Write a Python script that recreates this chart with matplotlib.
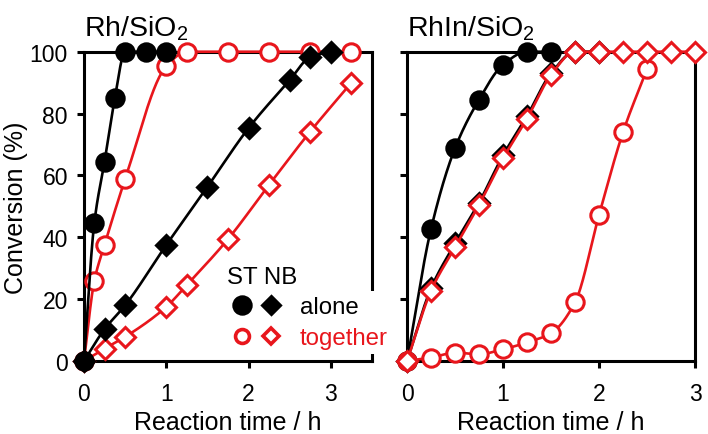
import numpy as np
import matplotlib
matplotlib.use('Agg')
import matplotlib.pyplot as plt
from matplotlib.lines import Line2D
from matplotlib.legend_handler import HandlerTuple

plt.rcParams['font.family'] = ['Liberation Sans', 'DejaVu Sans']
plt.rcParams['font.size'] = 16
plt.rcParams['mathtext.fontset'] = 'custom'
plt.rcParams['mathtext.rm'] = 'Liberation Sans'
plt.rcParams['mathtext.it'] = 'Liberation Sans:italic'

RED = '#e8161c'

# Rh/SiO2
rh_st_alone_t = [0, 0.125, 0.25, 0.375, 0.5, 0.75, 1.0]
rh_st_alone = [0, 44.5, 64.5, 85, 100, 100, 100]
rh_st_tog_t = [0, 0.125, 0.25, 0.5, 1.0, 1.25, 1.75, 2.25, 2.75, 3.25]
rh_st_tog = [0, 25.8, 37.5, 58.8, 95.3, 100, 100, 100, 100, 100]
rh_nb_alone_t = [0, 0.25, 0.5, 1.0, 1.5, 2.0, 2.5, 2.75, 3.0]
rh_nb_alone = [0, 10.3, 18.0, 37.5, 56.3, 75.3, 90.8, 98.3, 100]
rh_nb_tog_t = [0, 0.25, 0.5, 1.0, 1.25, 1.75, 2.25, 2.75, 3.25]
rh_nb_tog = [0, 4.0, 7.8, 17.5, 24.6, 39.4, 57.0, 74.2, 90.0]

# RhIn/SiO2
rhin_st_alone_t = [0, 0.25, 0.5, 0.75, 1.0, 1.25, 1.5]
rhin_st_alone = [0, 42.7, 68.8, 84.5, 95.8, 100, 100]
rhin_st_tog_t = [0, 0.25, 0.5, 0.75, 1.0, 1.25, 1.5, 1.75, 2.0, 2.25, 2.5]
rhin_st_tog = [0, 1.1, 2.7, 2.2, 3.8, 6.0, 9.0, 19.0, 47.2, 74.0, 94.4]
rhin_nb_alone_t = [0, 0.25, 0.5, 0.75, 1.0, 1.25, 1.5, 1.75, 2.0]
rhin_nb_alone = [0, 23.5, 38.0, 51.2, 66.5, 79.2, 93.0, 100, 100]
rhin_nb_tog_t = [0, 0.25, 0.5, 0.75, 1.0, 1.25, 1.5, 1.75, 2.0, 2.25, 2.5, 2.75, 3.0]
rhin_nb_tog = [0, 22.7, 36.8, 50.5, 65.5, 78.4, 92.5, 100, 100, 100, 100, 100, 100]


def pchip(x, y, n=300):
    # monotone cubic curve through the points, for the smooth guide lines
    x = np.asarray(x, float)
    y = np.asarray(y, float)
    h = np.diff(x)
    d = np.diff(y) / h
    m = np.zeros_like(y)
    for k in range(1, len(x) - 1):
        if d[k - 1] * d[k] > 0:
            w1 = 2 * h[k] + h[k - 1]
            w2 = h[k] + 2 * h[k - 1]
            m[k] = (w1 + w2) / (w1 / d[k - 1] + w2 / d[k])
    m[0] = d[0]
    m[-1] = d[-1]
    xs = np.linspace(x[0], x[-1], n)
    idx = np.clip(np.searchsorted(x, xs) - 1, 0, len(h) - 1)
    s = (xs - x[idx]) / h[idx]
    h00 = 2 * s**3 - 3 * s**2 + 1
    h10 = s**3 - 2 * s**2 + s
    h01 = -2 * s**3 + 3 * s**2
    h11 = s**3 - s**2
    ys = h00 * y[idx] + h10 * h[idx] * m[idx] + h01 * y[idx + 1] + h11 * h[idx] * m[idx + 1]
    return xs, ys


MS = {'o': 12.5, 'D': 10.3}


def series(ax, t, y, color, marker, filled, z):
    xs, ys = pchip(t, y)
    ax.plot(xs, ys, color=color, lw=1.9, zorder=z, clip_on=False)
    ax.plot(t, y, ls='none', marker=marker, ms=MS[marker],
            mfc=color if filled else 'white', mec=color, mew=2.2,
            zorder=z + 0.5, clip_on=False)


fig = plt.figure(figsize=(7.08, 4.35), dpi=100)
ax1 = fig.add_axes([0.1186, 0.1678, 0.4068, 0.711])
ax2 = fig.add_axes([0.5749, 0.1678, 0.4068, 0.711])

series(ax1, rh_st_tog_t, rh_st_tog, RED, 'o', False, 3)
series(ax1, rh_nb_tog_t, rh_nb_tog, RED, 'D', False, 3)
series(ax1, rh_st_alone_t, rh_st_alone, 'black', 'o', True, 4)
series(ax1, rh_nb_alone_t, rh_nb_alone, 'black', 'D', True, 4)

series(ax2, rhin_st_alone_t, rhin_st_alone, 'black', 'o', True, 3)
series(ax2, rhin_nb_alone_t, rhin_nb_alone, 'black', 'D', True, 3)
series(ax2, rhin_st_tog_t, rhin_st_tog, RED, 'o', False, 4)
series(ax2, rhin_nb_tog_t, rhin_nb_tog, RED, 'D', False, 5)

for ax, xmax in [(ax1, 3.5), (ax2, 3.0)]:
    ax.set_xlim(0, xmax)
    ax.set_ylim(0, 100)
    ax.set_xticks([0, 1, 2, 3])
    ax.set_yticks([0, 20, 40, 60, 80, 100])
    for sp in ax.spines.values():
        sp.set_linewidth(2.2)
    ax.tick_params(direction='out', length=5, width=2.2, pad=6.5, labelsize=16.5)
    ax.tick_params(axis='x', pad=10)
    ax.set_xlabel('Reaction time / h', fontsize=18, labelpad=4)
ax2.set_yticklabels([])
ax1.set_ylabel('Conversion (%)', fontsize=18, labelpad=1)

ax1.set_title('Rh/SiO$_2$', loc='left', fontsize=20.5, pad=12)
ax2.set_title('RhIn/SiO$_2$', loc='left', fontsize=20.5, pad=12)

h_alone = (Line2D([], [], ls='none', marker='o', ms=12.5, mfc='black', mec='black', mew=2.2),
           Line2D([], [], ls='none', marker='D', ms=9.5, mfc='black', mec='black', mew=2.2))
h_tog = (Line2D([], [], ls='none', marker='o', ms=10, mfc='white', mec=RED, mew=2.6),
         Line2D([], [], ls='none', marker='D', ms=8, mfc='white', mec=RED, mew=2.6))
leg = ax1.legend([h_alone, h_tog], ['alone', 'together'],
                 handler_map={tuple: HandlerTuple(ndivide=None, pad=0)},
                 loc='lower left', bbox_to_anchor=(0.481, 0.023), borderaxespad=0,
                 borderpad=0.2, handlelength=2.42, handletextpad=0.6,
                 labelspacing=0.37, fontsize=17.3,
                 frameon=True, framealpha=1, edgecolor='none', fancybox=False)
leg.get_texts()[1].set_color(RED)
leg.set_zorder(10)
ax1.text(0.497, 0.272, 'ST NB', transform=ax1.transAxes, fontsize=17.3,
         ha='left', va='center', zorder=11)

fig.savefig('out.png', dpi=100)
